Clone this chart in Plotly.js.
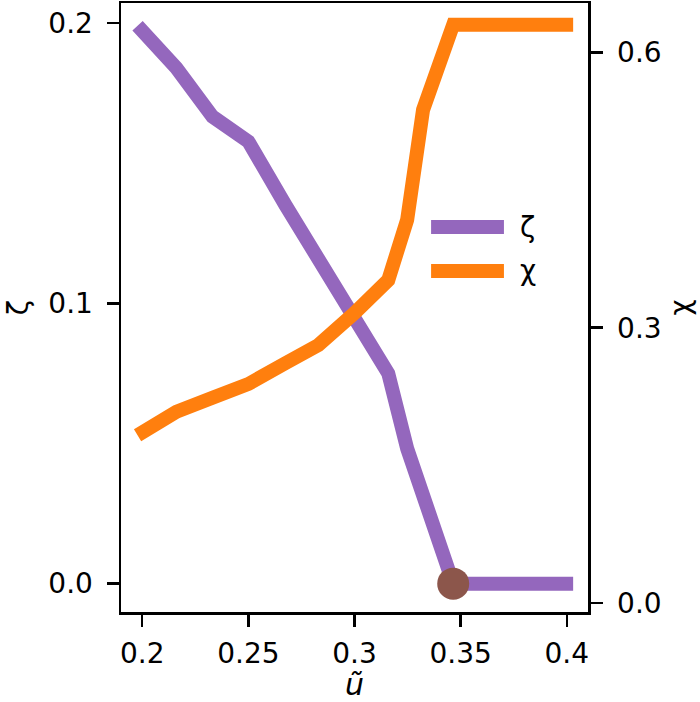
<!DOCTYPE html>
<html>
<head>
<meta charset="utf-8">
<script src="https://cdn.plot.ly/plotly-3.0.1.min.js"></script>
<style>
  html, body { margin: 0; padding: 0; background: #fff; }
  #chart { width: 700px; height: 702px; }
</style>
</head>
<body>
<div id="chart"></div>
<script>
// values
const uTilde = [0.1978, 0.2161, 0.2331, 0.2500, 0.2674, 0.2830, 0.3000, 0.3159, 0.3248, 0.3323, 0.3465, 0.4030];
const zeta = [0.1990, 0.1839, 0.1666, 0.1577, 0.1351, 0.1162, 0.0960, 0.0750, 0.0482, 0.0309, 0.0, 0.0];
const chi = [0.1829, 0.2084, 0.2237, 0.2387, 0.2613, 0.2811, 0.3160, 0.3519, 0.4175, 0.5375, 0.6302, 0.6302];
const pointX = [0.3465];
const pointY = [0.0];

const xTickVals = [0.2, 0.25, 0.3, 0.35, 0.4];
const xTickText = ['0.2', '0.25', '0.3', '0.35', '0.4'];

const seriesNames = ['ζ', 'χ'];
const seriesColors = ['#9467bd', '#ff7f0e'];

const FONT = 'DejaVu Sans, sans-serif';
const FS = 28;

const traces = [
    {
        x: uTilde, y: zeta, type: 'scatter', mode: 'lines', name: seriesNames[0],
        line: { color: seriesColors[0], width: 14 }, yaxis: 'y'
    },
    {
        x: pointX, y: pointY, type: 'scatter', mode: 'markers',
        marker: { color: '#8c564b', size: 32 }, yaxis: 'y'
    },
    {
        x: uTilde, y: chi, type: 'scatter', mode: 'lines', name: seriesNames[1],
        line: { color: seriesColors[1], width: 14 }, yaxis: 'y2'
    }
];

// legend drawn by hand so the swatches keep the full line thickness
const legendShapes = [];
const legendNotes = [];
const legendRows = [0.632, 0.560];
seriesNames.forEach((name, i) => {
    legendShapes.push({
        type: 'line', xref: 'paper', yref: 'paper',
        x0: 0.664, x1: 0.820, y0: legendRows[i], y1: legendRows[i],
        line: { color: seriesColors[i], width: 14 }
    });
    legendNotes.push({
        text: name, xref: 'paper', yref: 'paper', x: 0.850, y: legendRows[i],
        xanchor: 'left', yanchor: 'middle', showarrow: false,
        font: { family: FONT, size: FS, color: '#000' }
    });
});

const axisCommon = {
    showline: true, linecolor: '#000', linewidth: 2.5,
    ticks: 'outside', ticklen: 12, tickwidth: 2.5, tickcolor: '#000',
    showgrid: false, zeroline: false,
    tickfont: { family: FONT, size: FS, color: '#000' }
};

const layout = {
    width: 700, height: 702,
    margin: { l: 121, r: 112, t: 3, b: 90 },
    paper_bgcolor: '#fff', plot_bgcolor: '#fff',
    font: { family: FONT, size: FS, color: '#000' },
    showlegend: false,
    shapes: legendShapes,
    annotations: legendNotes,
    xaxis: {
        ...axisCommon, mirror: true,
        range: [0.19, 0.41],
        tickvals: xTickVals, ticktext: xTickText,
        ticklabelstandoff: 3,
        title: { text: '<i>ũ</i>', font: { family: FONT, size: 30 }, standoff: 0 }
    },
    yaxis: {
        ...axisCommon,
        range: [-0.0101, 0.2071],
        tickvals: [0, 0.1, 0.2], tickformat: '.1f',
        ticklabelstandoff: 8,
        title: { text: 'ζ', font: { family: FONT, size: FS }, standoff: 12 }
    },
    yaxis2: {
        ...axisCommon,
        overlaying: 'y', side: 'right',
        range: [-0.0098, 0.6539],
        tickvals: [0, 0.3, 0.6], tickformat: '.1f',
        ticklabelstandoff: 9,
        title: { text: 'χ', font: { family: FONT, size: FS }, standoff: 10 }
    }
};

Plotly.newPlot('chart', traces, layout, { displayModeBar: false, staticPlot: true });
</script>
</body>
</html>
